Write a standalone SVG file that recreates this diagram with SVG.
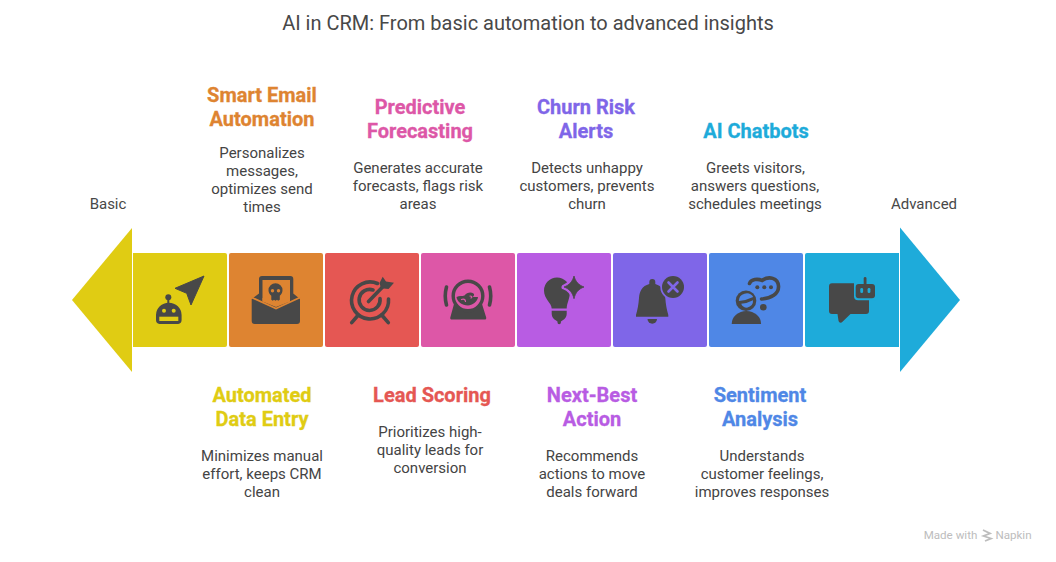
<svg xmlns="http://www.w3.org/2000/svg" width="1056" height="562" viewBox="0 0 1056 562">
<style>
text{font-family:Roboto,"Liberation Sans",sans-serif;text-anchor:middle}
.t{font-size:20px;fill:#484848}
.h{font-size:20px;font-weight:700;stroke-width:.3}
.c1{fill:#e0cc13;stroke:#e0cc13}
.c2{fill:#de8431;stroke:#de8431}
.c3{fill:#e55753;stroke:#e55753}
.c4{fill:#dd57a7;stroke:#dd57a7}
.c5{fill:#b85ce3;stroke:#b85ce3}
.c6{fill:#7f66e8;stroke:#7f66e8}
.c7{fill:#4f87e6;stroke:#4f87e6}
.c8{fill:#1eabda;stroke:#1eabda}
.d{font-size:15px;fill:#444}
.e{font-size:15px;fill:#484848}
.i{fill:#484848}
.s{fill:none;stroke:#484848;stroke-width:3.6;stroke-linecap:round}
.w{font-size:11.600px;fill:#bdbdbd}
</style>
<rect width="1056" height="562" fill="#fff"/>
<text class="t" x="528" y="30">AI in CRM: From basic automation to advanced insights</text>
<text class="e" x="108" y="209">Basic</text>
<text class="e" x="924" y="209">Advanced</text>
<g id="connectors">
<path id="arrow-left" d="M132 228V372L72 300Z" fill="#e0cc13"/>
<path id="arrow-right" d="M900 227.500V372L960 300Z" fill="#1eabda"/>
</g>
<g id="node-1">
<path d="M133 253H225a2 2 0 0 1 2 2V345a2 2 0 0 1-2 2H133Z" fill="#e0cc13"/>
<path class="i" d="M204 276L175 288.300L186.700 293.300L191 305Z" stroke="#484848" stroke-linejoin="round"/>
<circle class="i" cx="168.300" cy="297.300" r="3"/><rect class="i" x="167.300" y="298" width="2" height="6"/>
<path class="i" d="M156 320V315a12.800 12.300 0 0 1 25.600 0V320a4 4 0 0 1-3.500 4H159.500a4 4 0 0 1-3.500-4Z"/>
<circle cx="164" cy="310.700" r="2" fill="#e0cc13"/><circle cx="173.700" cy="310.700" r="2" fill="#e0cc13"/>
<rect x="159.300" y="316.700" width="19" height="4.300" fill="#e0cc13"/>
<text class="h c1" x="262" y="402">Automated</text><text class="h c1" x="262" y="426">Data Entry</text>
<text class="d" x="262" y="461">Minimizes manual</text><text class="d" x="262" y="479">effort, keeps CRM</text><text class="d" x="262" y="497">clean</text>
</g>
<g id="node-2">
<rect x="229" y="253" width="94" height="94" rx="2" fill="#de8431"/>
<path class="i" d="M251.700 299L259 293.500V279a3 3 0 0 1 3-3H290.300a3 3 0 0 1 3 3V293.500L300 299V321a3 3 0 0 1-3 3H254.700a3 3 0 0 1-3-3Z"/>
<rect x="262.500" y="280" width="27.500" height="21.500" fill="#de8431"/>
<path d="M262.500 301.500L276 307L290 301.500V298H262.500Z" fill="#de8431"/>
<path d="M251.700 297.500L276 308.500L300 297.500" fill="none" stroke="#de8431" stroke-width="1.800"/>
<path class="i" d="M275.500 283.300a7 7 0 0 1 7 7c0 2.800-1.300 4.300-2.700 5.400v4l-1.600 1-1.200-1-1.500 1-1.500-1-1.200 1-1.500-1v-4c-1.400-1.100-2.800-2.600-2.800-5.400a7 7 0 0 1 7-7Z"/>
<circle cx="272.500" cy="290.700" r="1.700" fill="#de8431"/><circle cx="278.500" cy="290.700" r="1.700" fill="#de8431"/>
<text class="h c2" x="262" y="102">Smart Email</text><text class="h c2" x="262" y="126">Automation</text>
<text class="d" x="262" y="158">Personalizes</text><text class="d" x="262" y="176">messages,</text><text class="d" x="262" y="194">optimizes send</text><text class="d" x="262" y="212">times</text>
</g>
<g id="node-3">
<rect x="325" y="253" width="94" height="94" rx="2" fill="#e55753"/>
<path class="s" d="M388.500 299A18.500 18.500 0 1 1 377.500 283.500"/>
<path class="s" d="M380 298.500A10.500 10.500 0 1 1 373 290"/>
<path class="s" d="M368.500 301.500L384 285.500" stroke-width="3.400"/>
<path class="i" d="M382.700 276.700L386 281.500L394 282.700L388.500 289L381 288.300L379.500 283Z"/>
<path class="s" d="M351.700 322.700L358.300 315M388.300 322.700L381.700 315" stroke-width="3.800"/>
<text class="h c3" x="432" y="402">Lead Scoring</text>
<text class="d" x="430" y="437">Prioritizes high-</text><text class="d" x="430" y="455">quality leads for</text><text class="d" x="430" y="473">conversion</text>
</g>
<g id="node-4">
<rect x="421" y="253" width="94" height="94" rx="2" fill="#dd57a7"/>
<path class="i" d="M454 304L450.300 317.500a1.500 1.500 0 0 0 1.500 2H484.700a1.500 1.500 0 0 0 1.500-2L482 304Z"/>
<circle cx="468" cy="296" r="14.800" fill="#dd57a7" stroke="#484848" stroke-width="3.400"/>
<path class="i" d="M456.500 297c3-1.500 5.500-.5 8-1.500c2-3 6.500-4 9-2c1.200 1 .5 2.800-1 3.200c2 .7 4 0 5.500 .3c-.3 4.500-6 8.500-10 8.500c-6 0-11-4-11.500-8.500Z"/>
<path d="M461.500 299.500c2-1 4 0 4 2M470 296c1.800 0 2.500 1.200 1 2" fill="none" stroke="#dd57a7" stroke-width="1.200" stroke-linecap="round"/>
<path class="s" d="M446.500 287Q444 296 446.500 305M489.500 287Q492 296 489.500 305"/>
<text class="h c4" x="420" y="114">Predictive</text><text class="h c4" x="420" y="138">Forecasting</text>
<text class="d" x="418" y="173">Generates accurate</text><text class="d" x="418" y="191">forecasts, flags risk</text><text class="d" x="418" y="209">areas</text>
</g>
<g id="node-5">
<rect x="517" y="253" width="94" height="94" rx="2" fill="#b85ce3"/>
<path class="i" d="M551.700 308.500C551.700 303 544 299 544 290.500A13 13 0 0 1 570 290.500C570 299 566.700 303 566.700 308.500Z"/>
<path d="M574 276C575.500 281.500 578.500 285 584 287C578.500 289 575.500 292.500 574 298.700C572.500 292.500 569.500 289 564 287C569.500 285 572.500 281.500 574 276Z" fill="#b85ce3" stroke="#b85ce3" stroke-width="5" stroke-linejoin="round"/>
<path class="i" d="M574 276C575.500 281.500 578.500 285 584 287C578.500 289 575.500 292.500 574 298.700C572.500 292.500 569.500 289 564 287C569.500 285 572.500 281.500 574 276Z" stroke="#484848" stroke-width=".8" stroke-linejoin="round"/>
<path class="i" d="M551.700 310.700H566.700V314c0 3-1.800 5-4 6.200l-1.800 1.300v1a1.700 1.700 0 0 1-3.400 0v-1l-1.800-1.300c-2.200-1.200-4-3.200-4-6.200Z"/>
<text class="h c5" x="592" y="402">Next-Best</text><text class="h c5" x="592" y="426">Action</text>
<text class="d" x="592" y="461">Recommends</text><text class="d" x="592" y="479">actions to move</text><text class="d" x="592" y="497">deals forward</text>
</g>
<g id="node-6">
<rect x="613" y="253" width="94" height="94" rx="2" fill="#7f66e8"/>
<path class="i" d="M652.300 279a3 3 0 0 1 3 3v2c7 2 9.500 7.500 10 14c.4 6 1.500 12 3 17v1.700H636v-1.700c1.500-5 2.600-11 3-17c.5-6.500 3-12 10.300-14v-2a3 3 0 0 1 3-3Z"/>
<path class="i" d="M647.500 319H657a4.750 4.750 0 0 1-9.500 0Z"/>
<circle cx="673" cy="287" r="12.700" fill="#7f66e8"/>
<circle cx="673" cy="287" r="11" class="i"/>
<path d="M668.500 282.500L677.500 291.500M677.500 282.500L668.500 291.500" stroke="#7f66e8" stroke-width="2.600" stroke-linecap="round"/>
<text class="h c6" x="586" y="114">Churn Risk</text><text class="h c6" x="586" y="138">Alerts</text>
<text class="d" x="587" y="173">Detects unhappy</text><text class="d" x="587" y="191">customers, prevents</text><text class="d" x="587" y="209">churn</text>
</g>
<g id="node-7">
<rect x="709" y="253" width="94" height="94" rx="2" fill="#4f87e6"/>
<path class="s" d="M749.500 283.500C751 279 758 278.500 762 280.500C769 275.500 778 278 778.500 286C779 294 771 298.500 761.500 299"/>
<circle class="i" cx="763.300" cy="307.300" r="3.300"/>
<circle class="i" cx="757.300" cy="287.300" r="2"/><circle class="i" cx="764.300" cy="287.300" r="2"/><circle class="i" cx="771" cy="287.300" r="2"/>
<circle class="i" cx="746" cy="300.700" r="10.300"/>
<path d="M738.800 301Q746 300.500 753.200 297A7.800 7.800 0 0 0 738.800 301Z" fill="#4f87e6"/>
<path d="M741.200 303.800Q747 303.500 753 300.300Q753.500 306 747 307.800Q742.500 307.500 741.200 303.800Z" fill="#4f87e6"/>
<path class="i" d="M731.700 324a14.700 13 0 0 1 29.400 0Z"/>
<text class="h c7" x="760" y="402">Sentiment</text><text class="h c7" x="760" y="426">Analysis</text>
<text class="d" x="762" y="461">Understands</text><text class="d" x="762" y="479">customer feelings,</text><text class="d" x="762" y="497">improves responses</text>
</g>
<g id="node-8">
<path d="M805 255a2 2 0 0 1 2-2H899V347H807a2 2 0 0 1-2-2Z" fill="#1eabda"/>
<path class="i" d="M829 286.300a3 3 0 0 1 3-3H866a3 3 0 0 1 3 3V311a3 3 0 0 1-3 3H850.500L842.500 321.800c-1.500 1.500-3.500 1-4-1L837.500 314H832a3 3 0 0 1-3-3Z"/>
<rect x="854" y="279" width="24" height="21.300" rx="4" fill="#1eabda"/>
<rect class="i" x="855.700" y="284" width="19.300" height="14.300" rx="3"/>
<rect class="i" x="863.700" y="277" width="2.800" height="8" rx="1.400"/>
<rect x="860.300" y="288" width="2.800" height="5" rx="1.300" fill="#1eabda"/><rect x="867.600" y="288" width="2.800" height="5" rx="1.300" fill="#1eabda"/>
<text class="h c8" x="756" y="138">AI Chatbots</text>
<text class="d" x="755.500" y="173">Greets visitors,</text><text class="d" x="755" y="191">answers questions,</text><text class="d" x="755" y="209">schedules meetings</text>
</g>
<g id="watermark">
<text class="w" x="950.500" y="539">Made with</text>
<path d="M983 530L990 533.500L983.500 536L991 538.500L985 541" fill="none" stroke="#bdbdbd" stroke-width="1.800"/>
<text class="w" x="1013.500" y="539">Napkin</text>
</g>
</svg>
